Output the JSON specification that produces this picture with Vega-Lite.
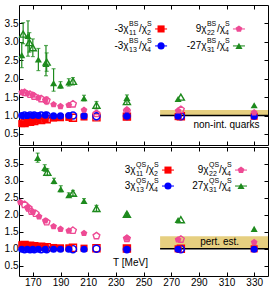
{
 "$schema": "https://vega.github.io/schema/vega-lite/v6.json",
 "padding": {"left": 3, "top": 4, "right": 3, "bottom": 0},
 "spacing": 0,
 "config": {
  "font": "Liberation Sans",
  "view": {"stroke": "black", "strokeWidth": 1},
  "axis": {"grid": false, "domain": false, "tickSize": -4, "tickColor": "black", "tickWidth": 1, "labelFont": "Liberation Sans", "labelFontSize": 10, "labelColor": "black", "labelPadding": 5},
  "text": {"font": "Liberation Sans", "color": "black", "baseline": "middle"}
 },
 "datasets": {
  "pts": [
   {"p":"BS","n":"f","s":"c11","T":162,"v":0.78},{"p":"BS","n":"f","s":"c11","T":166,"v":0.81},{"p":"BS","n":"f","s":"c11","T":170,"v":0.84},{"p":"BS","n":"f","s":"c11","T":174,"v":0.87},{"p":"BS","n":"f","s":"c11","T":179,"v":0.9},{"p":"BS","n":"f","s":"c11","T":185,"v":0.93},{"p":"BS","n":"f","s":"c11","T":190,"v":0.94},{"p":"BS","n":"f","s":"c11","T":196,"v":0.95},{"p":"BS","n":"f","s":"c11","T":207,"v":0.96},{"p":"BS","n":"f","s":"c11","T":238,"v":0.97},{"p":"BS","n":"f","s":"c11","T":275,"v":0.97},{"p":"BS","n":"f","s":"c11","T":330,"v":0.98},
   {"p":"BS","n":"f","s":"c13","T":162,"v":1.0},{"p":"BS","n":"f","s":"c13","T":166,"v":1.0},{"p":"BS","n":"f","s":"c13","T":170,"v":1.0},{"p":"BS","n":"f","s":"c13","T":174,"v":1.0},{"p":"BS","n":"f","s":"c13","T":179,"v":1.01},{"p":"BS","n":"f","s":"c13","T":185,"v":0.99},{"p":"BS","n":"f","s":"c13","T":190,"v":0.99},{"p":"BS","n":"f","s":"c13","T":196,"v":1.0},{"p":"BS","n":"f","s":"c13","T":207,"v":0.99},{"p":"BS","n":"f","s":"c13","T":238,"v":0.98},{"p":"BS","n":"f","s":"c13","T":275,"v":0.98},{"p":"BS","n":"f","s":"c13","T":330,"v":0.98},
   {"p":"BS","n":"f","s":"c22","T":162,"v":1.63},{"p":"BS","n":"f","s":"c22","T":166,"v":1.6},{"p":"BS","n":"f","s":"c22","T":170,"v":1.56},{"p":"BS","n":"f","s":"c22","T":174,"v":1.48},{"p":"BS","n":"f","s":"c22","T":179,"v":1.42},{"p":"BS","n":"f","s":"c22","T":185,"v":1.3},{"p":"BS","n":"f","s":"c22","T":190,"v":1.25},{"p":"BS","n":"f","s":"c22","T":196,"v":1.28},{"p":"BS","n":"f","s":"c22","T":207,"v":1.15},{"p":"BS","n":"f","s":"c22","T":238,"v":1.16},{"p":"BS","n":"f","s":"c22","T":275,"v":1.13},{"p":"BS","n":"f","s":"c22","T":330,"v":1.08},
   {"p":"BS","n":"f","s":"c31","T":162,"v":2.64,"lo":2.3,"hi":2.98},{"p":"BS","n":"f","s":"c31","T":166.5,"v":3.16,"lo":2.61,"hi":3.57},{"p":"BS","n":"f","s":"c31","T":174,"v":2.52,"lo":2.22,"hi":2.82},{"p":"BS","n":"f","s":"c31","T":179.5,"v":2.4,"lo":2.08,"hi":2.9},{"p":"BS","n":"f","s":"c31","T":185,"v":1.88,"lo":1.66,"hi":2.27},{"p":"BS","n":"f","s":"c31","T":190,"v":1.82,"lo":1.74,"hi":1.92},{"p":"BS","n":"f","s":"c31","T":196,"v":1.9,"lo":1.8,"hi":2.0},{"p":"BS","n":"f","s":"c31","T":207,"v":1.47,"lo":1.4,"hi":1.55},{"p":"BS","n":"f","s":"c31","T":238,"v":1.48,"lo":1.41,"hi":1.56},{"p":"BS","n":"f","s":"c31","T":275,"v":1.45},{"p":"BS","n":"f","s":"c31","T":330,"v":1.28},
   {"p":"BS","n":"o","s":"c11","T":164,"v":0.8},{"p":"BS","n":"o","s":"c11","T":168,"v":0.83},{"p":"BS","n":"o","s":"c11","T":171,"v":0.85},{"p":"BS","n":"o","s":"c11","T":176,"v":0.88},{"p":"BS","n":"o","s":"c11","T":180,"v":0.9},{"p":"BS","n":"o","s":"c11","T":199,"v":0.94},{"p":"BS","n":"o","s":"c11","T":216,"v":0.95},{"p":"BS","n":"o","s":"c11","T":238,"v":0.97},{"p":"BS","n":"o","s":"c11","T":277,"v":0.98},
   {"p":"BS","n":"o","s":"c13","T":164,"v":1.0},{"p":"BS","n":"o","s":"c13","T":168,"v":1.0},{"p":"BS","n":"o","s":"c13","T":171,"v":1.0},{"p":"BS","n":"o","s":"c13","T":176,"v":1.0},{"p":"BS","n":"o","s":"c13","T":180,"v":1.0},{"p":"BS","n":"o","s":"c13","T":199,"v":1.0},{"p":"BS","n":"o","s":"c13","T":216,"v":0.98},{"p":"BS","n":"o","s":"c13","T":238,"v":0.99},{"p":"BS","n":"o","s":"c13","T":277,"v":0.98},
   {"p":"BS","n":"o","s":"c22","T":164,"v":1.62},{"p":"BS","n":"o","s":"c22","T":168,"v":1.57},{"p":"BS","n":"o","s":"c22","T":171,"v":1.52},{"p":"BS","n":"o","s":"c22","T":176,"v":1.45},{"p":"BS","n":"o","s":"c22","T":180,"v":1.41,"lo":1.3,"hi":1.5},{"p":"BS","n":"o","s":"c22","T":199,"v":1.31},{"p":"BS","n":"o","s":"c22","T":216,"v":1.05},{"p":"BS","n":"o","s":"c22","T":238,"v":1.12},{"p":"BS","n":"o","s":"c22","T":277,"v":1.16},
   {"p":"BS","n":"o","s":"c31","T":163,"v":3.21,"lo":2.95,"hi":3.52},{"p":"BS","n":"o","s":"c31","T":167.5,"v":2.98,"lo":2.72,"hi":3.25},{"p":"BS","n":"o","s":"c31","T":170,"v":2.84,"lo":2.6,"hi":3.08},{"p":"BS","n":"o","s":"c31","T":180,"v":2.45,"lo":2.2,"hi":2.7},{"p":"BS","n":"o","s":"c31","T":199,"v":1.93,"lo":1.83,"hi":2.03},{"p":"BS","n":"o","s":"c31","T":216,"v":1.28,"lo":1.18,"hi":1.38},{"p":"BS","n":"o","s":"c31","T":238,"v":1.38,"lo":1.3,"hi":1.46},{"p":"BS","n":"o","s":"c31","T":277,"v":1.5},
   {"p":"QS","n":"f","s":"c11","T":162,"v":1.12},{"p":"QS","n":"f","s":"c11","T":166,"v":1.1},{"p":"QS","n":"f","s":"c11","T":170,"v":1.08},{"p":"QS","n":"f","s":"c11","T":174,"v":1.07},{"p":"QS","n":"f","s":"c11","T":179,"v":1.05},{"p":"QS","n":"f","s":"c11","T":185,"v":1.04},{"p":"QS","n":"f","s":"c11","T":190,"v":1.03},{"p":"QS","n":"f","s":"c11","T":196,"v":1.03},{"p":"QS","n":"f","s":"c11","T":207,"v":1.02},{"p":"QS","n":"f","s":"c11","T":238,"v":1.01},{"p":"QS","n":"f","s":"c11","T":275,"v":1.0},{"p":"QS","n":"f","s":"c11","T":330,"v":1.0},
   {"p":"QS","n":"f","s":"c13","T":162,"v":0.99},{"p":"QS","n":"f","s":"c13","T":166,"v":0.99},{"p":"QS","n":"f","s":"c13","T":170,"v":0.99},{"p":"QS","n":"f","s":"c13","T":174,"v":0.99},{"p":"QS","n":"f","s":"c13","T":179,"v":0.99},{"p":"QS","n":"f","s":"c13","T":185,"v":0.99},{"p":"QS","n":"f","s":"c13","T":190,"v":0.99},{"p":"QS","n":"f","s":"c13","T":196,"v":0.99},{"p":"QS","n":"f","s":"c13","T":207,"v":0.99},{"p":"QS","n":"f","s":"c13","T":238,"v":0.99},{"p":"QS","n":"f","s":"c13","T":275,"v":0.99},{"p":"QS","n":"f","s":"c13","T":330,"v":0.99},
   {"p":"QS","n":"f","s":"c22","T":161,"v":2.37},{"p":"QS","n":"f","s":"c22","T":166,"v":2.22},{"p":"QS","n":"f","s":"c22","T":170,"v":2.08},{"p":"QS","n":"f","s":"c22","T":174.5,"v":1.95},{"p":"QS","n":"f","s":"c22","T":179,"v":1.83},{"p":"QS","n":"f","s":"c22","T":185,"v":1.66},{"p":"QS","n":"f","s":"c22","T":190,"v":1.58},{"p":"QS","n":"f","s":"c22","T":196,"v":1.53},{"p":"QS","n":"f","s":"c22","T":207,"v":1.46},{"p":"QS","n":"f","s":"c22","T":238,"v":1.32},{"p":"QS","n":"f","s":"c22","T":275,"v":1.27},{"p":"QS","n":"f","s":"c22","T":330,"v":1.19},
   {"p":"QS","n":"f","s":"c31","T":173.5,"v":3.68,"lo":3.55,"hi":3.82},{"p":"QS","n":"f","s":"c31","T":178.6,"v":3.38,"lo":3.28,"hi":3.48},{"p":"QS","n":"f","s":"c31","T":185.3,"v":3.0,"lo":2.92,"hi":3.08},{"p":"QS","n":"f","s":"c31","T":190.2,"v":2.76,"lo":2.68,"hi":2.86},{"p":"QS","n":"f","s":"c31","T":196,"v":2.58,"lo":2.52,"hi":2.65},{"p":"QS","n":"f","s":"c31","T":207,"v":2.41,"lo":2.34,"hi":2.48},{"p":"QS","n":"f","s":"c31","T":238,"v":2.0,"lo":1.95,"hi":2.05},{"p":"QS","n":"f","s":"c31","T":275,"v":1.85},{"p":"QS","n":"f","s":"c31","T":330,"v":1.59},
   {"p":"QS","n":"o","s":"c11","T":164,"v":1.11},{"p":"QS","n":"o","s":"c11","T":168,"v":1.09},{"p":"QS","n":"o","s":"c11","T":171,"v":1.08},{"p":"QS","n":"o","s":"c11","T":176,"v":1.06},{"p":"QS","n":"o","s":"c11","T":180,"v":1.05},{"p":"QS","n":"o","s":"c11","T":199,"v":1.03},{"p":"QS","n":"o","s":"c11","T":216,"v":1.02},{"p":"QS","n":"o","s":"c11","T":238,"v":1.01},{"p":"QS","n":"o","s":"c11","T":277,"v":1.0},
   {"p":"QS","n":"o","s":"c13","T":164,"v":0.99},{"p":"QS","n":"o","s":"c13","T":168,"v":0.99},{"p":"QS","n":"o","s":"c13","T":171,"v":0.99},{"p":"QS","n":"o","s":"c13","T":176,"v":0.99},{"p":"QS","n":"o","s":"c13","T":180,"v":0.99},{"p":"QS","n":"o","s":"c13","T":199,"v":0.99},{"p":"QS","n":"o","s":"c13","T":216,"v":1.0},{"p":"QS","n":"o","s":"c13","T":238,"v":0.99},{"p":"QS","n":"o","s":"c13","T":277,"v":0.99},
   {"p":"QS","n":"o","s":"c22","T":164,"v":2.3},{"p":"QS","n":"o","s":"c22","T":167,"v":2.2},{"p":"QS","n":"o","s":"c22","T":169,"v":2.1},{"p":"QS","n":"o","s":"c22","T":172,"v":2.04},{"p":"QS","n":"o","s":"c22","T":180,"v":1.79},{"p":"QS","n":"o","s":"c22","T":199,"v":1.54},{"p":"QS","n":"o","s":"c22","T":216,"v":1.38},{"p":"QS","n":"o","s":"c22","T":238,"v":1.3},{"p":"QS","n":"o","s":"c22","T":277,"v":1.28},
   {"p":"QS","n":"o","s":"c31","T":180.5,"v":3.26,"lo":3.16,"hi":3.36},{"p":"QS","n":"o","s":"c31","T":199,"v":2.64,"lo":2.56,"hi":2.72},{"p":"QS","n":"o","s":"c31","T":216,"v":2.19,"lo":2.1,"hi":2.28},{"p":"QS","n":"o","s":"c31","T":238,"v":2.02},{"p":"QS","n":"o","s":"c31","T":277,"v":1.86}
  ],
  "bands": [
   {"p":"BS","T":262,"T2":340,"v":1.0,"v2":1.15},
   {"p":"QS","T":262,"T2":340,"v":1.0,"v2":1.37}
  ],
  "leg": [
   {"p":"BS","s":"c11","T":262.7,"v":3.35,"pre":"-3χ","sup":"BS","sub":"11","sub2":"2"},
   {"p":"BS","s":"c13","T":262.7,"v":2.89,"pre":"-3χ","sup":"BS","sub":"13","sub2":"4"},
   {"p":"BS","s":"c22","T":319,"v":3.35,"pre":"9χ","sup":"BS","sub":"22","sub2":"4"},
   {"p":"BS","s":"c31","T":319,"v":2.89,"pre":"-27χ","sup":"BS","sub":"31","sub2":"4"},
   {"p":"QS","s":"c11","T":267.7,"v":3.32,"pre":"3χ","sup":"QS","sub":"11","sub2":"2"},
   {"p":"QS","s":"c13","T":267.7,"v":2.85,"pre":"3χ","sup":"QS","sub":"13","sub2":"4"},
   {"p":"QS","s":"c22","T":320.5,"v":3.32,"pre":"9χ","sup":"QS","sub":"22","sub2":"4"},
   {"p":"QS","s":"c31","T":320.5,"v":2.85,"pre":"27χ","sup":"QS","sub":"31","sub2":"4"}
  ],
  "notes": [
   {"p":"BS","T":310,"v":0.74,"txt":"non-int. quarks"},
   {"p":"QS","T":305,"v":1.2,"txt":"pert. est."},
   {"p":"QS","T":240.6,"v":0.58,"txt":"T [MeV]"}
  ]
 },
 "vconcat": [
  {
   "width": 249, "height": 140,
   "encoding": {
    "x": {"field": "T", "type": "quantitative", "scale": {"domain": [160, 340], "nice": false, "zero": false}, "axis": null},
    "y": {"field": "v", "type": "quantitative", "scale": {"domain": [0.2, 4.0], "nice": false, "zero": false}, "axis": null},
    "color": {"field": "s", "type": "nominal", "scale": {"domain": ["c11","c13","c22","c31"], "range": ["#ff0000","#0000ff","#ee4a94","#1d8a1d"]}, "legend": null},
    "shape": {"field": "s", "type": "nominal", "scale": {"domain": ["c11","c13","c22","c31"], "range": ["square","circle","M0,-1L0.951,-0.309L0.588,0.809L-0.588,0.809L-0.951,-0.309Z","triangle-up"]}, "legend": null}
   },
   "resolve": {"axis": {"x": "independent", "y": "independent"}},
   "layer": [
    {"data": {"name": "bands"}, "transform": [{"filter": "datum.p=='BS'"}],
     "mark": {"type": "rect", "color": "#e6cf80"},
     "encoding": {
      "x": {"field": "T", "type": "quantitative", "axis": {"orient": "bottom", "values": [170,190,210,230,250,270,290,310,330], "labels": false, "title": null}},
      "x2": {"field": "T2"},
      "y": {"field": "v", "type": "quantitative", "axis": {"orient": "left", "values": [0.5,1,1.5,2,2.5,3,3.5], "format": ".1f", "title": null}},
      "y2": {"field": "v2"},
      "color": {"value": "#e6cf80"}, "shape": null}},
    {"data": {"name": "bands"}, "transform": [{"filter": "datum.p=='BS'"}],
     "mark": {"type": "rule", "color": "black", "strokeWidth": 1.5},
     "encoding": {
      "x": {"field": "T", "type": "quantitative", "axis": {"orient": "top", "values": [170,190,210,230,250,270,290,310,330], "labels": false, "title": null}},
      "x2": {"field": "T2"},
      "y": {"field": "v", "type": "quantitative", "axis": {"orient": "right", "values": [0.5,1,1.5,2,2.5,3,3.5], "labels": false, "title": null}},
      "color": {"value": "black"}, "shape": null}},
    {"data": {"name": "pts"}, "transform": [{"filter": "datum.p=='BS' && datum.hi != null"}],
     "mark": {"type": "rule", "strokeWidth": 1.2},
     "encoding": {"y": {"field": "lo", "type": "quantitative", "axis": null}, "y2": {"field": "hi"}, "shape": null}},
    {"data": {"name": "pts"}, "transform": [{"filter": "datum.p=='BS' && datum.hi != null"}],
     "mark": {"type": "tick", "orient": "horizontal", "size": 4, "thickness": 1.2},
     "encoding": {"y": {"field": "lo", "type": "quantitative", "axis": null}, "shape": null}},
    {"data": {"name": "pts"}, "transform": [{"filter": "datum.p=='BS' && datum.hi != null"}],
     "mark": {"type": "tick", "orient": "horizontal", "size": 4, "thickness": 1.2},
     "encoding": {"y": {"field": "hi", "type": "quantitative", "axis": null}, "shape": null}},
    {"data": {"name": "pts"}, "transform": [{"filter": "datum.p=='BS' && datum.n=='o'"}],
     "mark": {"type": "point", "filled": false, "size": 50, "strokeWidth": 1.4, "opacity": 1}},
    {"data": {"name": "pts"}, "transform": [{"filter": "datum.p=='BS' && datum.n=='f'"}],
     "mark": {"type": "point", "filled": true, "size": 50, "opacity": 1}},
    {"data": {"name": "leg"}, "transform": [{"filter": "datum.p=='BS'"}],
     "mark": {"type": "tick", "orient": "horizontal", "size": 12, "thickness": 1.5},
     "encoding": {"shape": null}},
    {"data": {"name": "leg"}, "transform": [{"filter": "datum.p=='BS'"}],
     "mark": {"type": "point", "filled": true, "size": 50, "opacity": 1}},
    {"data": {"name": "leg"}, "transform": [{"filter": "datum.p=='BS'"}],
     "mark": {"type": "text", "fontSize": 10, "align": "right", "dx": -32.5},
     "encoding": {"text": {"field": "pre"}, "color": {"value": "black"}, "shape": null}},
    {"data": {"name": "leg"}, "transform": [{"filter": "datum.p=='BS'"}],
     "mark": {"type": "text", "fontSize": 7, "align": "left", "dx": -32, "dy": -5},
     "encoding": {"text": {"field": "sup"}, "color": {"value": "black"}, "shape": null}},
    {"data": {"name": "leg"}, "transform": [{"filter": "datum.p=='BS'"}],
     "mark": {"type": "text", "fontSize": 7, "align": "left", "dx": -32, "dy": 4},
     "encoding": {"text": {"field": "sub"}, "color": {"value": "black"}, "shape": null}},
    {"data": {"name": "leg"}, "transform": [{"filter": "datum.p=='BS'"}],
     "mark": {"type": "text", "fontSize": 10, "align": "right", "dx": -14},
     "encoding": {"text": {"value": "/χ"}, "color": {"value": "black"}, "shape": null}},
    {"data": {"name": "leg"}, "transform": [{"filter": "datum.p=='BS'"}],
     "mark": {"type": "text", "fontSize": 7, "align": "left", "dx": -14, "dy": -5},
     "encoding": {"text": {"value": "S"}, "color": {"value": "black"}, "shape": null}},
    {"data": {"name": "leg"}, "transform": [{"filter": "datum.p=='BS'"}],
     "mark": {"type": "text", "fontSize": 7, "align": "left", "dx": -14, "dy": 4},
     "encoding": {"text": {"field": "sub2"}, "color": {"value": "black"}, "shape": null}},
    {"data": {"name": "notes"}, "transform": [{"filter": "datum.p=='BS'"}],
     "mark": {"type": "text", "fontSize": 10, "align": "center"},
     "encoding": {"text": {"field": "txt"}, "color": {"value": "black"}, "shape": null}}
   ]
  },
  {
   "width": 249, "height": 129,
   "encoding": {
    "x": {"field": "T", "type": "quantitative", "scale": {"domain": [160, 340], "nice": false, "zero": false}, "axis": null},
    "y": {"field": "v", "type": "quantitative", "scale": {"domain": [0.2, 4.0], "nice": false, "zero": false}, "axis": null},
    "color": {"field": "s", "type": "nominal", "scale": {"domain": ["c11","c13","c22","c31"], "range": ["#ff0000","#0000ff","#ee4a94","#1d8a1d"]}, "legend": null},
    "shape": {"field": "s", "type": "nominal", "scale": {"domain": ["c11","c13","c22","c31"], "range": ["square","circle","M0,-1L0.951,-0.309L0.588,0.809L-0.588,0.809L-0.951,-0.309Z","triangle-up"]}, "legend": null}
   },
   "resolve": {"axis": {"x": "independent", "y": "independent"}},
   "layer": [
    {"data": {"name": "bands"}, "transform": [{"filter": "datum.p=='QS'"}],
     "mark": {"type": "rect", "color": "#e6cf80"},
     "encoding": {
      "x": {"field": "T", "type": "quantitative", "axis": {"orient": "bottom", "values": [170,190,210,230,250,270,290,310,330], "title": null}},
      "x2": {"field": "T2"},
      "y": {"field": "v", "type": "quantitative", "axis": {"orient": "left", "values": [0.5,1,1.5,2,2.5,3,3.5], "format": ".1f", "title": null}},
      "y2": {"field": "v2"},
      "color": {"value": "#e6cf80"}, "shape": null}},
    {"data": {"name": "bands"}, "transform": [{"filter": "datum.p=='QS'"}],
     "mark": {"type": "rule", "color": "black", "strokeWidth": 1.5},
     "encoding": {
      "x": {"field": "T", "type": "quantitative", "axis": {"orient": "top", "values": [170,190,210,230,250,270,290,310,330], "labels": false, "title": null}},
      "x2": {"field": "T2"},
      "y": {"field": "v", "type": "quantitative", "axis": {"orient": "right", "values": [0.5,1,1.5,2,2.5,3,3.5], "labels": false, "title": null}},
      "color": {"value": "black"}, "shape": null}},
    {"data": {"name": "pts"}, "transform": [{"filter": "datum.p=='QS' && datum.hi != null"}],
     "mark": {"type": "rule", "strokeWidth": 1.2},
     "encoding": {"y": {"field": "lo", "type": "quantitative", "axis": null}, "y2": {"field": "hi"}, "shape": null}},
    {"data": {"name": "pts"}, "transform": [{"filter": "datum.p=='QS' && datum.hi != null"}],
     "mark": {"type": "tick", "orient": "horizontal", "size": 4, "thickness": 1.2},
     "encoding": {"y": {"field": "lo", "type": "quantitative", "axis": null}, "shape": null}},
    {"data": {"name": "pts"}, "transform": [{"filter": "datum.p=='QS' && datum.hi != null"}],
     "mark": {"type": "tick", "orient": "horizontal", "size": 4, "thickness": 1.2},
     "encoding": {"y": {"field": "hi", "type": "quantitative", "axis": null}, "shape": null}},
    {"data": {"name": "pts"}, "transform": [{"filter": "datum.p=='QS' && datum.n=='o'"}],
     "mark": {"type": "point", "filled": false, "size": 50, "strokeWidth": 1.4, "opacity": 1}},
    {"data": {"name": "pts"}, "transform": [{"filter": "datum.p=='QS' && datum.n=='f'"}],
     "mark": {"type": "point", "filled": true, "size": 50, "opacity": 1}},
    {"data": {"name": "leg"}, "transform": [{"filter": "datum.p=='QS'"}],
     "mark": {"type": "tick", "orient": "horizontal", "size": 12, "thickness": 1.5},
     "encoding": {"shape": null}},
    {"data": {"name": "leg"}, "transform": [{"filter": "datum.p=='QS'"}],
     "mark": {"type": "point", "filled": true, "size": 50, "opacity": 1}},
    {"data": {"name": "leg"}, "transform": [{"filter": "datum.p=='QS'"}],
     "mark": {"type": "text", "fontSize": 10, "align": "right", "dx": -32.5},
     "encoding": {"text": {"field": "pre"}, "color": {"value": "black"}, "shape": null}},
    {"data": {"name": "leg"}, "transform": [{"filter": "datum.p=='QS'"}],
     "mark": {"type": "text", "fontSize": 7, "align": "left", "dx": -32, "dy": -5},
     "encoding": {"text": {"field": "sup"}, "color": {"value": "black"}, "shape": null}},
    {"data": {"name": "leg"}, "transform": [{"filter": "datum.p=='QS'"}],
     "mark": {"type": "text", "fontSize": 7, "align": "left", "dx": -32, "dy": 4},
     "encoding": {"text": {"field": "sub"}, "color": {"value": "black"}, "shape": null}},
    {"data": {"name": "leg"}, "transform": [{"filter": "datum.p=='QS'"}],
     "mark": {"type": "text", "fontSize": 10, "align": "right", "dx": -14},
     "encoding": {"text": {"value": "/χ"}, "color": {"value": "black"}, "shape": null}},
    {"data": {"name": "leg"}, "transform": [{"filter": "datum.p=='QS'"}],
     "mark": {"type": "text", "fontSize": 7, "align": "left", "dx": -14, "dy": -5},
     "encoding": {"text": {"value": "S"}, "color": {"value": "black"}, "shape": null}},
    {"data": {"name": "leg"}, "transform": [{"filter": "datum.p=='QS'"}],
     "mark": {"type": "text", "fontSize": 7, "align": "left", "dx": -14, "dy": 4},
     "encoding": {"text": {"field": "sub2"}, "color": {"value": "black"}, "shape": null}},
    {"data": {"name": "notes"}, "transform": [{"filter": "datum.p=='QS'"}],
     "mark": {"type": "text", "fontSize": 10, "align": "center"},
     "encoding": {"text": {"field": "txt"}, "color": {"value": "black"}, "shape": null}}
   ]
  }
 ]
}
